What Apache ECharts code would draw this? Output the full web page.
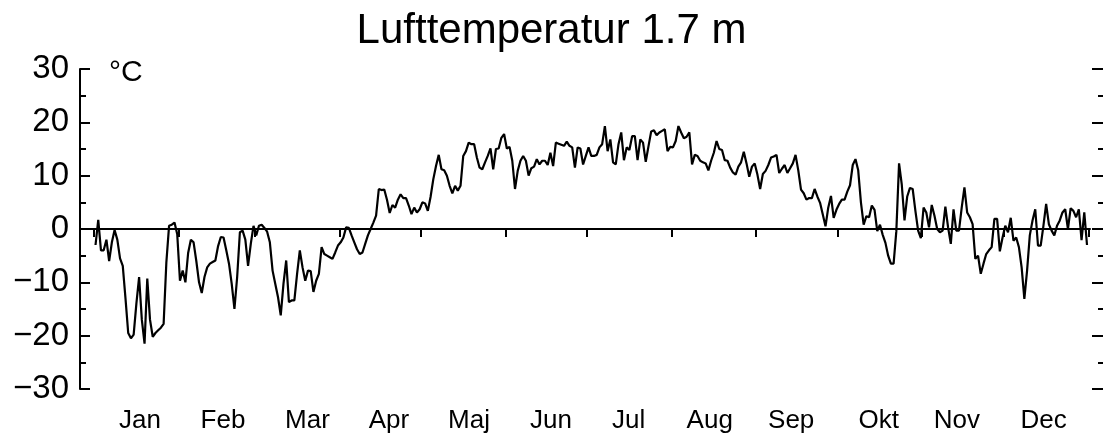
<!DOCTYPE html>
<html>
<head>
<meta charset="utf-8">
<title>Lufttemperatur 1.7 m</title>
<script src="https://cdn.jsdelivr.net/npm/echarts@6.0.0/dist/echarts.min.js"></script>
<style>
    html, body { margin: 0; padding: 0; background: #fff; }
    #chart { width: 1103px; height: 442px; }
</style>
</head>
<body>
<div id="chart"></div>
<script>
// daily mean air temperature, one value per day of the year (day 0 = 1 Jan)
const temps = [
    // Jan
    -3, 1.7, -4, -4, -2, -6, -2.5, -0.2, -2, -5.5,
    -6.9, -13, -19.5, -20.5, -19.8, -14, -9, -17, -21.5, -9.3,
    -17, -20.2, -19.5, -19, -18.5, -17.8, -6.3, 0.6, 0.8, 1.2,
    -1.0,
    // Feb
    -9.7, -7.8, -10, -4.5, -2, -2.5, -6, -10, -12, -9,
    -7.2, -6.5, -6.2, -5.9, -3.2, -1.5, -1.6, -4, -6.5, -10.3,
    -15, -9, -0.6, -0.3, -2, -6.9, -2.8, 0.6,
    // Mar
    -1.2, 0.6, 0.8, 0.2, -0.5, -2.5, -7.8, -10.3, -12.8, -16.2,
    -10.3, -5.9, -13.7, -13.4, -13.4, -8.4, -4, -7.2, -9.7, -7.8,
    -7.9, -11.8, -9.7, -8.4, -3.4, -4.7, -5, -5.3, -5.6, -4.4,
    -3.1,
    // Apr
    -2.5, -1.6, 0.3, 0.2, -1.2, -2.5, -3.8, -4.7, -4.4, -2.8,
    -1.2, 0, 1.2, 2.5, 7.5, 7.3, 7.4, 5.5, 3, 4.5,
    4, 5.5, 6.5, 5.8, 5.8, 4.4, 2.8, 4, 3.1, 3.7,
    // Maj
    5, 4.8, 3.4, 6, 9.3, 11.8, 13.9, 11.2, 11, 10,
    8.1, 6.7, 8.1, 7.2, 8.1, 13.7, 14.6, 16.2, 15.9, 15.9,
    13.4, 11.5, 11.2, 12.5, 13.7, 15.1, 11.2, 15, 15.1, 17.1,
    17.8,
    // Jun
    15.1, 15.4, 12.8, 7.5, 10.9, 12.8, 13.7, 12.8, 10, 11.4,
    11.7, 13.1, 12.1, 12.8, 12.8, 12, 14.3, 11.8, 16.2, 16,
    15.8, 15.6, 16.4, 15.6, 15.3, 11.5, 15.3, 15.1, 12.1, 13.7,
    // Jul
    15.3, 13.7, 13.7, 13.9, 15.3, 15.9, 19.3, 14.6, 16.8, 12.5,
    12.1, 15.9, 18.1, 12.9, 15.3, 14.8, 17.4, 17.4, 12.9, 16.8,
    16.2, 12.6, 15.5, 18.3, 18.5, 17.6, 18.1, 18.4, 18.7, 14.6,
    15.4,
    // Aug
    15.3, 16.5, 19.3, 18.1, 17, 17.3, 18.1, 12.1, 13.9, 13.7,
    12.8, 12.5, 12.3, 11, 12.8, 14.3, 16.5, 15, 14.8, 12.9,
    12.8, 11.5, 10.6, 10.2, 11.7, 12.5, 14.5, 12.3, 9.8, 11.7,
    12.3,
    // Sep
    10.2, 7.5, 10.3, 10.9, 12, 13.4, 13.6, 13.9, 10.5, 11.3,
    12, 10.5, 11.4, 12.3, 13.9, 11, 7.4, 6.7, 5.5, 5.8,
    5.8, 7.5, 6.1, 4.9, 2.7, 0.5, 4, 6.2, 2.1, 3.6,
    // Okt
    4.7, 5.5, 5.5, 7, 8.2, 12, 13.1, 11, 5, 0.8,
    2.4, 2.2, 4.4, 3.6, -0.4, 0.8, -1.1, -2.6, -5, -6.5,
    -6.5, -0.4, 12.3, 8.3, 1.6, 6.1, 7.7, 7.5, 3.4, -0.3,
    -1.7,
    // Nov
    4, 3.1, 0.3, 4.5, 2.5, 0, -0.6, -0.3, 4.2, 0.3,
    -2.8, 3.7, -0.3, -0.3, 4, 7.8, 3.1, 2.2, 0.9, -5.6,
    -5, -8.4, -6.5, -4.7, -4, -3.4, 1.9, 1.9, -4.2, -1.6,
    // Dec
    0.6, -0.6, 2.1, -2.2, -1.6, -3.4, -7.2, -13.1, -7.8, -1.2,
    1.6, 3.7, -3.1, -3.1, 0.6, 4.7, 0.9, -0.3, -1.2, 0.6,
    1.6, 3.1, 3.7, 0, 3.9, 3.4, 2.2, 3.7, -2.1, 3.1,
    -3
];

const monthNames = ['Jan', 'Feb', 'Mar', 'Apr', 'Maj', 'Jun', 'Jul', 'Aug', 'Sep', 'Okt', 'Nov', 'Dec'];
// first day of each month, plus the end of the year
const monthStarts = [0, 31, 59, 90, 120, 151, 181, 212, 243, 273, 304, 334, 365];
// where the month names sit, in days
const monthLabelPos = [16.8, 47.3, 78.3, 108.2, 137.6, 167.7, 196.2, 226, 255.9, 288, 316.7, 348.6];
const yTicks = [-30, -20, -10, 0, 10, 20, 30];

function initChart() {
    const chart = echarts.init(document.getElementById('chart'), null, { renderer: 'canvas' });

    // each day is drawn at its middle
    const points = temps.map((t, i) => [i + 0.5, t]);
    const font = 'Liberation Sans, Arial, sans-serif';

    const option = {
        animation: false,
        backgroundColor: '#fff',
        title: [
            {
                text: 'Lufttemperatur 1.7 m',
                left: 'center',
                top: 5,
                textStyle: { fontFamily: font, fontSize: 42, fontWeight: 'normal', color: '#000' }
            },
            {
                text: '°C',
                left: 104,
                top: 53,
                textStyle: { fontFamily: font, fontSize: 30, fontWeight: 'normal', color: '#000' }
            }
        ],
        grid: {
            left: 80,
            right: 13,
            top: 69,
            bottom: 53,
            containLabel: false
        },
        xAxis: [
            {
                // zero line with month ticks
                type: 'value',
                position: 'top',
                min: -5.2,
                max: 365.6,
                axisLine: { show: true, onZero: true, lineStyle: { color: '#000', width: 2 } },
                axisTick: {
                    show: true,
                    inside: true,
                    length: 8,
                    customValues: monthStarts,
                    lineStyle: { color: '#000', width: 2 }
                },
                axisLabel: { show: false },
                splitLine: { show: false }
            },
            {
                // month names along the bottom
                type: 'value',
                position: 'bottom',
                min: -5.2,
                max: 365.6,
                axisLine: { show: false, onZero: false },
                axisTick: { show: false },
                splitLine: { show: false },
                axisLabel: {
                    show: true,
                    customValues: monthLabelPos,
                    margin: 19,
                    fontFamily: font,
                    fontSize: 26,
                    color: '#000',
                    formatter: function (value) {
                        let best = 0;
                        monthLabelPos.forEach((p, i) => {
                            if (Math.abs(p - value) < Math.abs(monthLabelPos[best] - value)) best = i;
                        });
                        return monthNames[best];
                    }
                }
            }
        ],
        yAxis: [
            {
                type: 'value',
                position: 'left',
                min: yTicks[0],
                max: yTicks[yTicks.length - 1],
                interval: 10,
                axisLine: { show: true, onZero: false, lineStyle: { color: '#000', width: 2 } },
                axisTick: { show: true, inside: true, length: 10, lineStyle: { color: '#000', width: 2 } },
                minorTick: { show: true, splitNumber: 2, length: 6, lineStyle: { color: '#000', width: 2 } },
                splitLine: { show: false },
                minorSplitLine: { show: false },
                axisLabel: {
                    margin: 11,
                    fontFamily: font,
                    fontSize: 33,
                    color: '#000',
                    formatter: v => String(v).replace('-', '\u2212')
                }
            },
            {
                // tick marks only, at the right edge
                type: 'value',
                position: 'right',
                offset: 13,
                min: yTicks[0],
                max: yTicks[yTicks.length - 1],
                interval: 10,
                axisLine: { show: false, onZero: false },
                axisTick: { show: true, inside: true, length: 11, lineStyle: { color: '#000', width: 2 } },
                minorTick: { show: true, splitNumber: 2, length: 5, lineStyle: { color: '#000', width: 2 } },
                splitLine: { show: false },
                axisLabel: { show: false }
            }
        ],
        series: [
            {
                type: 'line',
                xAxisIndex: 0,
                yAxisIndex: 0,
                data: points,
                symbol: 'none',
                lineStyle: { color: '#000', width: 2.2 },
                z: 3
            }
        ]
    };

    chart.setOption(option);
}

initChart();
</script>
</body>
</html>
